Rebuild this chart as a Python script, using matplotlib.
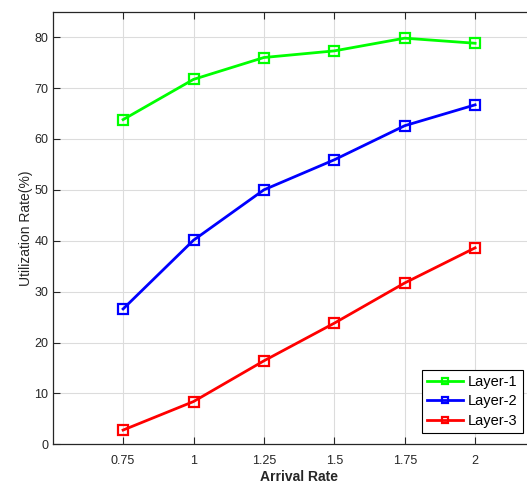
import matplotlib.pyplot as plt
import numpy as np

plt.rcParams['font.family'] = ['Liberation Sans', 'DejaVu Sans']

arrival = [0.75, 1, 1.25, 1.5, 1.75, 2]
layer1 = [63.8, 71.7, 76.0, 77.3, 79.8, 78.8]
layer2 = [26.6, 40.1, 50.0, 55.9, 62.6, 66.7]
layer3 = [2.8, 8.4, 16.4, 23.8, 31.7, 38.6]
xticks = [0.75, 1, 1.25, 1.5, 1.75, 2]
xticklabels = ['0.75', '1', '1.25', '1.5', '1.75', '2']
yticks = [0, 10, 20, 30, 40, 50, 60, 70, 80]

W, H = 527, 484
fig = plt.figure(figsize=(W / 100, H / 100), dpi=100)
# axes runs past the right edge of the figure (x limit 2.25)
ax = fig.add_axes([52.7 / W, (H - 444.3) / H, 492.8 / W, 432.6 / H])

style = dict(lw=2, marker='s', ms=7, mfc='none', mew=1.6)
ax.plot(arrival, layer1, color=(0, 1, 0), label='Layer-1', **style)
ax.plot(arrival, layer2, color=(0, 0, 1), label='Layer-2', **style)
ax.plot(arrival, layer3, color=(1, 0, 0), label='Layer-3', **style)

ax.set_xlim(0.5, 2.25)
ax.set_ylim(0, 85)
ax.set_xticks(xticks)
ax.set_xticklabels(xticklabels)
ax.set_yticks(yticks)
ax.grid(True, color='#dcdcdc', lw=0.8)
ax.set_axisbelow(True)
ax.tick_params(direction='in', top=True, right=True, labelsize=9,
               colors='#262626', length=5)
ax.tick_params(axis='x', pad=7.5)
ax.tick_params(axis='y', pad=3)
for s in ax.spines.values():
    s.set_color('#262626')
    s.set_linewidth(0.9)

ax.set_xlabel('Arrival Rate', fontsize=10, fontweight='bold', color='#262626',
              labelpad=2.5)
ax.set_ylabel('Utilization Rate(%)', fontsize=10, color='#262626', labelpad=1)

leg = ax.legend(loc='lower right', bbox_to_anchor=(469.8 / 492.8, 11.5 / 432.6),
                fontsize=10.5, fancybox=False, framealpha=1, edgecolor='black',
                handlelength=2.5, markerscale=0.65, borderpad=0.35,
                labelspacing=0.38, handletextpad=0.3, borderaxespad=0)
leg.get_frame().set_linewidth(0.8)

plt.savefig('out.png', dpi=100)
